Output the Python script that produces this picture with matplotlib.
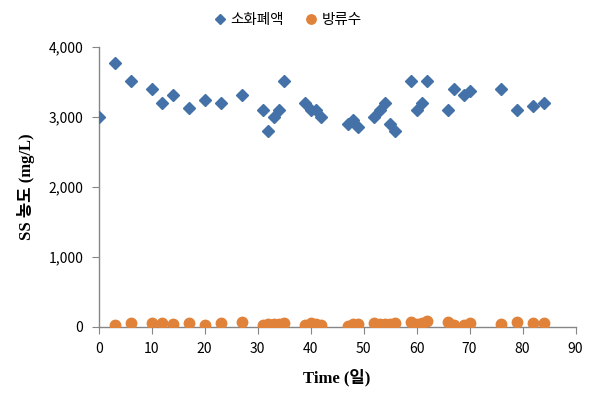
import matplotlib
matplotlib.use("Agg")
import matplotlib.pyplot as plt
from matplotlib.ticker import FuncFormatter

plt.rcParams['font.family'] = ['Noto Sans CJK KR', 'DejaVu Sans']

# 소화폐액 (blue diamonds)
days_a = [0, 3, 6, 10, 12, 14, 17, 20, 23, 27, 31, 32, 33, 34, 35, 39, 40, 41, 42,
          47, 48, 49, 52, 53, 54, 55, 56, 59, 60, 61, 62, 66, 67, 69, 70, 76, 79, 82, 84]
ss_a = [3000, 3760, 3510, 3400, 3200, 3310, 3120, 3240, 3200, 3310, 3100, 2800, 3000,
        3100, 3510, 3200, 3100, 3100, 3000,
        2890, 2950, 2850, 3000, 3100, 3200, 2900, 2800, 3510, 3100, 3200, 3510,
        3100, 3400, 3310, 3360, 3400, 3100, 3150, 3200]

# 방류수 (orange circles)
days_b = [3, 6, 10, 12, 14, 17, 20, 23, 27, 31, 32, 33, 34, 35, 39, 40, 41, 42,
          47, 48, 49, 52, 53, 54, 55, 56, 59, 60, 61, 62, 66, 67, 69, 70, 76, 79, 82, 84]
ss_b = [33, 53, 57, 57, 43, 48, 33, 48, 76, 33, 38, 43, 43, 48, 33, 52, 38, 29,
        19, 38, 43, 48, 43, 38, 43, 48, 62, 38, 52, 90, 62, 33, 33, 48, 38, 67, 48, 48]

fig = plt.figure(figsize=(6.02, 4.05), dpi=100)
ax = fig.add_axes([0.164, 0.193, 0.792, 0.692])

ax.plot(days_a, ss_a, 'D', color='#4472A8', markersize=6, label='소화폐액', zorder=3)
ax.plot(days_b, ss_b, 'o', color='#E0823A', markersize=7.5, label='방류수', zorder=3)

ax.set_xlim(0, 90)
ax.set_ylim(0, 4000)
ax.set_xticks(range(0, 91, 10))
ax.set_yticks(range(0, 4001, 1000))
ax.yaxis.set_major_formatter(FuncFormatter(lambda v, p: f'{int(v):,}'))

for s in ['top', 'right']:
    ax.spines[s].set_visible(False)
for s in ['left', 'bottom']:
    ax.spines[s].set_color('#868686')
    ax.spines[s].set_linewidth(1)
    ax.spines[s].set_clip_on(False)
ax.tick_params(direction='out', length=5, color='#868686', labelsize=10, pad=6)

lab = dict(family=['Liberation Serif', 'Noto Sans CJK KR'], fontweight='bold', fontsize=12)
ax.set_xlabel('Time (일)', labelpad=9, **lab)
ax.set_ylabel('SS 농도 (mg/L)', labelpad=10, **lab)

fig.legend(loc='upper center', bbox_to_anchor=(0.477, 1.0), ncol=2, frameon=False,
           fontsize=10.5, handlelength=1.0, handletextpad=0.2, columnspacing=1.4,
           markerscale=0.9)

fig.savefig('out.png', dpi=100)
